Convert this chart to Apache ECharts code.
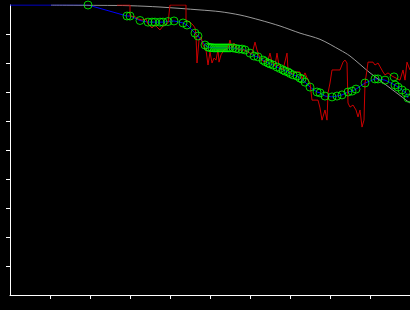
<!DOCTYPE html>
<html>
<head>
<meta charset="utf-8">
<script src="https://cdn.jsdelivr.net/npm/echarts@6/dist/echarts.min.js"></script>
<style>html,body{margin:0;padding:0;background:#000;}#c{width:410px;height:310px;}</style>
</head>
<body>
<div id="c"></div>
<script>
// Reference (model) curve
const modelX = [10.25, 22.5, 30, 37.5, 47.5, 52.5, 57.5, 62.5, 67.5, 72.5, 77.5, 82.5, 85, 90, 95, 100];
const modelY = [100, 99.9, 99.76, 99.3, 98.3, 97.7, 96.55, 94.8, 92.76, 90.3, 88.17, 84.5, 82.4, 76.6, 71.4, 66.2];

// Raw measurements (red)
const rawX = [26.75,30,30,31.25,32,33,34,34.5,35.5,36.25,36.75,37.5,38.25,38.75,39.5,40,44,44,45,45.75,46.25,46.5,46.75,47.25,47.75,48.25,49,49.5,50,50.5,51,51.5,52,52.25,52.75,53.5,54.5,55,55.5,56,56.5,57.5,58.5,59.5,60.5,61.25,61.75,62.5,63.5,64.5,65,65.5,66.25,66.75,67.25,68.25,69.25,69.5,70.5,71.5,72.5,73,73.75,74.5,75,75.5,76,77,77.5,78,78.75,79.25,79.5,80,80.5,82.5,83.25,83.75,84.25,84.5,85,85.75,86.5,87,87.5,88,88.5,88.75,89.25,89.5,90.75,91.25,92,92.5,93.25,93.75,94.5,95.5,96.5,97.5,98.25,98.75,99.25,100];
const rawY = [100,100,96.2,95.9,95.2,94.8,95.2,93.4,92.1,93.1,92.4,91.4,92.8,92.4,93.8,100,100,94.8,94.1,93.1,92.1,89.7,80.0,87.9,89.0,86.2,84.5,79.3,83.8,80.0,81.7,81.0,84.5,80.3,82.8,84.5,85.2,87.9,85.2,86.9,85.2,84.5,84.5,83.8,83.1,87.2,84.5,81.7,80.3,81.0,83.4,80.3,79.0,83.4,79.0,77.6,83.4,77.6,76.2,76.9,76.9,74.5,76.6,74.1,73.1,67.2,66.9,67.2,64.5,60.3,63.8,60.3,69.7,73.1,77.6,77.6,80.3,81.0,80.0,66.2,64.8,65.5,63.8,61.4,63.8,57.9,60.3,73.1,77.6,80.3,80.3,79.3,80.0,80.0,76.9,75.9,76.6,75.5,74.8,74.1,77.6,74.1,80.3,77.6];

// Sampled points (green circles)
const sampX = [19.5,29.25,30,32.5,34.5,35.5,36.25,37.5,38.25,39.5,41,43.25,44.25,46.25,47,48.75,49.5,50,50.5,51,51.5,52,52.5,53,53.5,54,54.5,55,55.75,56.5,57.25,58,58.75,60,61,62,63.25,63.75,64.5,65,65.75,66.75,67.5,68.25,68.75,69.5,70,70.75,71.75,72.5,73,73.75,75,76.75,77.5,78.75,80.5,81.75,83,84.5,85.5,86.5,88.75,91.25,92,93.75,96,96.25,97,98,99,99.5];
const sampY = [100,96.2,96.2,94.66,94.1,94.1,94.1,94.1,94.1,94.3,94.5,93.8,93.1,90.3,89.3,86.2,85.5,85.3,85.3,85.2,85.2,85.2,85.2,85.2,85.2,85.2,85.2,85.2,85.2,85.0,84.8,84.8,84.5,83.4,82.4,82.1,81.0,80.5,80.0,79.7,79.3,78.6,78.1,77.6,77.2,76.9,76.4,75.9,75.5,74.8,74.5,73.4,71.7,70.0,69.7,68.6,68.3,68.6,69.0,70.0,70.3,71.0,73.1,74.5,74.5,74.1,75.2,72.4,71.7,70.7,69.7,67.9];

// Smoothed trend (blue)
const trendX = [0].concat(sampX.filter((x, i) => i !== 66));
const trendY = [100].concat(sampY.filter((y, i) => i !== 66));

const zip = (a, b) => a.map((v, i) => [v, b[i]]);
const tickVals = [10, 20, 30, 40, 50, 60, 70, 80, 90];

const chart = echarts.init(document.getElementById('c'), null, {renderer: 'canvas'});
const axisCommon = {
  type: 'value', min: 0, max: 100, interval: 10,
  axisLine: {show: true, onZero: false, lineStyle: {color: '#fff', width: 1}},
  axisTick: {show: true, length: 4, lineStyle: {color: '#fff', width: 1}, customValues: tickVals},
  axisLabel: {show: false},
  splitLine: {show: false}
};
chart.setOption({
  backgroundColor: '#000',
  animation: false,
  grid: {left: 10, right: 0, top: 5, bottom: 15, containLabel: false},
  xAxis: axisCommon,
  yAxis: axisCommon,
  series: [
    {type: 'line', data: zip(trendX, trendY), symbol: 'none', z: 1,
     lineStyle: {color: '#0000ff', width: 1}},
    {type: 'line', data: zip(modelX, modelY), symbol: 'none', smooth: 0.3, z: 2,
     lineStyle: {color: '#999999', width: 1}},
    {type: 'line', data: zip(rawX, rawY), symbol: 'none', z: 3,
     lineStyle: {color: '#cc0000', width: 1}},
    {type: 'scatter', data: zip(sampX, sampY), symbol: 'circle', symbolSize: 8, z: 4,
     itemStyle: {color: 'rgba(0,0,0,0)', borderColor: '#00ff00', borderWidth: 1}}
  ]
});
</script>
</body>
</html>
